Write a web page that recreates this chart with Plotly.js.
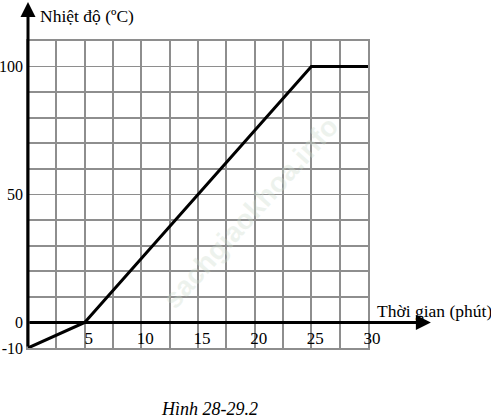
<!DOCTYPE html>
<html>
<head>
<meta charset="utf-8">
<script src="https://cdn.plot.ly/plotly-3.0.1.min.js"></script>
<style>html,body{margin:0;padding:0;background:#fff;}#chart{width:491px;height:420px;}</style>
</head>
<body>
<div id="chart"></div>
<script>
// Data
const timeMin = [0, 5, 25, 30];
const tempC = [-10, 0, 100, 100];
const xTickVals = [5, 10, 15, 20, 25, 30];
const xTickText = ['5', '10', '15', '20', '25', '30'];
const yTickVals = [-10, 0, 50, 100];
const yTickText = ['-10', '0', '50', '100'];
const xTitle = 'Thời gian (phút)';
const yTitle = 'Nhiệt độ (ºC)';
const caption = 'Hình 28-29.2';
const watermark = 'sachgiaokhoa.info';

const serif = 'Liberation Serif, Times New Roman, serif';
const gridColor = '#8e8e8e';

const trace = {
  x: timeMin, y: tempC, mode: 'lines', type: 'scatter',
  line: {color: '#000', width: 3}, hoverinfo: 'skip', showlegend: false
};

const layout = {
  width: 491, height: 420,
  margin: {l: 28, r: 123, t: 41, b: 72, pad: 0},
  paper_bgcolor: '#fff', plot_bgcolor: '#fff',
  font: {family: serif, size: 17, color: '#000'},
  xaxis: {
    range: [0, 30], fixedrange: true,
    tickmode: 'array', tickvals: xTickVals, ticktext: xTickText,
    ticks: '', ticklabelposition: 'inside', ticklabeloverflow: 'allow',
    ticklabelshift: 4, ticklabelstandoff: 1,
    tickfont: {family: serif, size: 17, color: '#000'},
    showgrid: true, gridcolor: gridColor, gridwidth: 1.7,
    minor: {dtick: 2.5, tick0: 0, showgrid: true, gridcolor: gridColor, gridwidth: 1.7},
    showline: true, linecolor: gridColor, linewidth: 1.7, mirror: true,
    zeroline: false
  },
  yaxis: {
    range: [-10, 110], fixedrange: true,
    tickmode: 'array', tickvals: yTickVals, ticktext: yTickText,
    ticks: '', ticklabelstandoff: 0,
    tickfont: {family: serif, size: 16, color: '#000'},
    showgrid: true, gridcolor: gridColor, gridwidth: 1.7,
    minor: {dtick: 10, tick0: 0, showgrid: true, gridcolor: gridColor, gridwidth: 1.7},
    showline: true, linecolor: gridColor, linewidth: 1.7, mirror: true,
    zeroline: false
  },
  annotations: [
    // x axis arrow (along y = 0)
    {xref: 'paper', yref: 'y', x: 1.185, y: 0, ax: -403, ay: 0, axref: 'pixel', ayref: 'pixel',
     text: '', showarrow: true, arrowhead: 2, arrowsize: 1, arrowwidth: 3, arrowcolor: '#000'},
    // y axis arrow
    {xref: 'x', yref: 'paper', x: 0, y: 1.127, ax: 0, ay: 346, axref: 'pixel', ayref: 'pixel',
     text: '', showarrow: true, arrowhead: 2, arrowsize: 1, arrowwidth: 3, arrowcolor: '#000'},
    {xref: 'paper', yref: 'y', x: 1.022, y: 4.5, xanchor: 'left', yanchor: 'middle',
     text: xTitle, showarrow: false, font: {family: serif, size: 17.5, color: '#000'}},
    {xref: 'paper', yref: 'paper', x: 0.028, y: 1.082, xanchor: 'left', yanchor: 'middle',
     text: yTitle, showarrow: false, font: {family: serif, size: 17.5, color: '#000'}},
    {xref: 'paper', yref: 'paper', x: 0.535, y: -0.198, xanchor: 'center', yanchor: 'middle',
     text: '<i>' + caption + '</i>', showarrow: false, font: {family: serif, size: 18, color: '#000'}},
    {xref: 'paper', yref: 'paper', x: 0.655, y: 0.44, xanchor: 'center', yanchor: 'middle',
     text: '<b>' + watermark + '</b>', textangle: -48, showarrow: false,
     font: {family: 'Liberation Sans, Arial, sans-serif', size: 28, color: 'rgba(205,220,205,0.35)'}}
  ]
};

Plotly.newPlot('chart', [trace], layout, {displayModeBar: false, staticPlot: true});
</script>
</body>
</html>
